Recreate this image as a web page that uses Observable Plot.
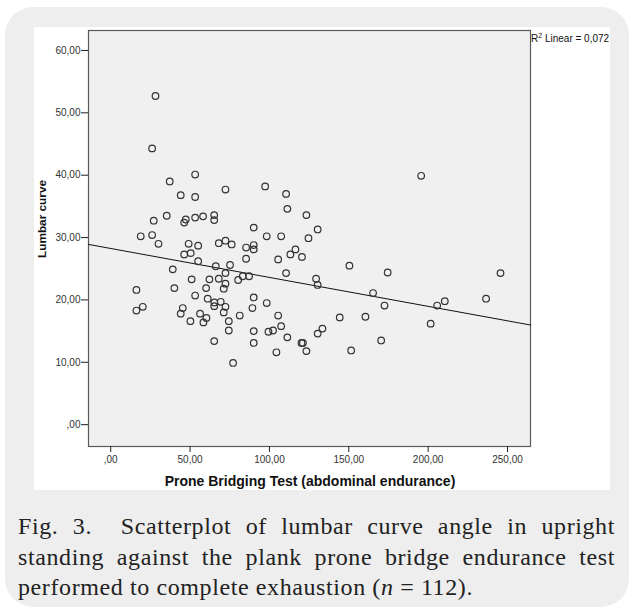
<!DOCTYPE html>
<html><head><meta charset="utf-8">
<script src="https://cdn.jsdelivr.net/npm/d3@7"></script>
<script src="https://cdn.jsdelivr.net/npm/@observablehq/plot@0.6"></script>
<style>
body{margin:0;background:#fff;width:634px;height:614px;position:relative;overflow:hidden;font-family:"Liberation Sans",Arial,sans-serif;}
#panel{position:absolute;left:5px;top:7px;width:624px;height:600px;border-radius:28px;background:#eeeeee;}
#white{position:absolute;left:34px;top:27px;width:576px;height:463px;background:#fff;}
#chart{position:absolute;left:0;top:0;}
#ytitle{position:absolute;left:42px;top:219px;transform:translate(-50%,-50%) rotate(-90deg);font-weight:bold;font-size:11.8px;white-space:nowrap;color:#111;}
#xtitle{position:absolute;left:310px;top:473px;transform:translateX(-50%);font-weight:bold;font-size:14px;white-space:nowrap;color:#111;line-height:16px;}
#r2{position:absolute;left:531px;top:33px;font-size:10px;white-space:nowrap;color:#111;line-height:12px;}
#r2 sup{font-size:7px;vertical-align:4px;line-height:0;}
#caption{position:absolute;left:18px;top:511px;width:597px;font-family:"Liberation Serif","DejaVu Serif",serif;font-size:24px;letter-spacing:0.6px;line-height:30.5px;color:#222;}
.jl{text-align:justify;text-align-last:justify;}
.ll{text-align:left;white-space:nowrap;}
</style>
</head><body>
<div id="panel"></div>
<div id="white"></div>
<div id="chart"></div>
<div id="ytitle">Lumbar curve</div>
<div id="xtitle">Prone Bridging Test (abdominal endurance)</div>
<div id="r2">R<sup>2</sup> Linear = 0,072</div>
<div id="caption">
<div class="jl">Fig.&nbsp;3.&nbsp; Scatterplot of lumbar curve angle in upright</div>
<div class="jl">standing against the plank prone bridge endurance test</div>
<div class="ll">performed to complete exhaustion (<i>n</i> = 112).</div>
</div>
<script>
const enduranceX = [28.2,26.1,53.2,37.2,72.3,97.3,110.5,44.1,53.2,111.3,123.3,35.3,27.1,47.3,46.3,53.2,58.2,65.2,65.2,90.1,
18.9,26.1,30.1,49.1,55.1,46.3,50.4,55.1,68.1,72.3,76.2,85.3,90.1,90.1,98.3,107.4,124.6,116.4,113.2,120.5,
105.5,85.3,39.1,66.2,75.2,72.3,51.0,62.2,68.1,83.2,87.2,80.3,110.5,16.2,40.1,60.1,71.2,72.3,53.2,61.1,
65.3,65.2,69.3,72.3,71.2,90.1,98.3,89.3,81.3,105.5,45.4,44.1,20.2,16.2,56.3,60.3,58.4,50.2,74.4,74.4,
90.1,99.4,102.3,107.4,111.3,120.2,121.1,123.3,104.4,90.1,65.2,77.1,195.6,130.4,150.4,174.5,245.6,129.4,130.4,165.3,
210.5,236.5,172.5,205.7,201.6,144.3,160.5,133.4,130.4,170.4,151.5];
const lumbarY = [52.7,44.3,40.1,39.0,37.7,38.2,37.0,36.8,36.5,34.6,33.6,33.5,32.7,32.9,32.4,33.2,33.4,33.6,32.8,31.6,
30.2,30.4,29.0,29.0,28.7,27.3,27.5,26.2,29.1,29.5,28.9,28.4,28.8,28.1,30.2,30.2,29.9,28.1,27.3,26.9,
26.5,26.6,24.9,25.4,25.6,24.3,23.3,23.3,23.4,23.8,23.8,23.2,24.3,21.6,21.9,21.9,21.8,22.6,20.7,20.2,
19.6,19.0,19.7,18.9,18.0,20.4,19.5,18.7,17.5,17.5,18.7,17.8,18.9,18.3,17.8,17.1,16.4,16.6,16.6,15.1,
15.0,14.9,15.1,15.8,14.0,13.1,13.1,11.8,11.6,13.1,13.4,9.9,39.9,31.3,25.5,24.4,24.3,23.4,22.4,21.1,
19.8,20.2,19.1,19.1,16.2,17.2,17.3,15.4,14.6,13.5,11.9];
const xTicks = [0,50,100,150,200,250];
const yTicks = [0,10,20,30,40,50,60];
const fitIntercept = 28.25;
const fitSlope = -0.0464;
const xDomain = [-14, 264.5];
const yDomain = [-3.5, 63.2];

const fmt = d => d === 0 ? ",00" : `${d},00`;
const points = enduranceX.map((x, i) => ({x, y: lumbarY[i]}));
const fitLine = xDomain.map(x => ({x, y: fitIntercept + fitSlope * x}));

const chart = Plot.plot({
  width: 634, height: 500,
  marginLeft: 88, marginRight: 104, marginTop: 30, marginBottom: 54,
  style: {background: "transparent", fontFamily: "'Liberation Sans', Arial, sans-serif", fontSize: "10px", color: "#333", overflow: "visible"},
  x: {domain: xDomain, label: null},
  y: {domain: yDomain, label: null},
  marks: [
    Plot.frame({fill: "#f0f0f0", stroke: "#5a5a5a", strokeWidth: 1.2}),
    Plot.axisX({ticks: xTicks, tickFormat: fmt, tickSize: 6, tickPadding: 3, label: null, stroke: "#222", fill: "#333"}),
    Plot.axisY({ticks: yTicks, tickFormat: fmt, tickSize: 7, tickPadding: 1, label: null, stroke: "#222", fill: "#333"}),
    Plot.line(fitLine, {x: "x", y: "y", stroke: "#111", strokeWidth: 1}),
    Plot.dot(points, {x: "x", y: "y", r: 3.3, stroke: "#333", strokeWidth: 1.2, fill: "none"})
  ]
});
document.getElementById("chart").appendChild(chart);
</script>
</body></html>
